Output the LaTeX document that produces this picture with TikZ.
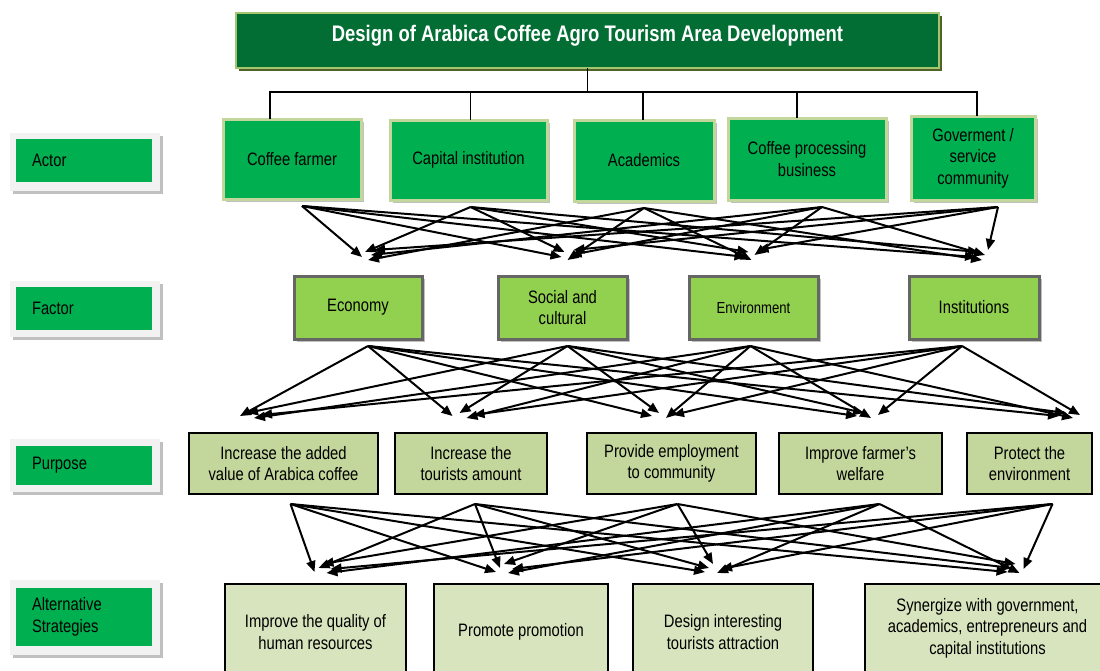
\documentclass[tikz,border=0pt]{standalone}
\usepackage{fontspec}
\setmainfont{Liberation Sans}
\newfontfamily\nf{Liberation Sans}[FakeStretch=0.82]
\usetikzlibrary{arrows.meta,shadows}

\definecolor{titlegreen}{RGB}{2,110,52}
\definecolor{titleedge}{RGB}{165,198,110}
\definecolor{titleshadow}{RGB}{80,98,40}
\definecolor{actorgreen}{RGB}{0,176,80}
\definecolor{actoredge}{RGB}{195,214,155}
\definecolor{factorgreen}{RGB}{146,208,80}
\definecolor{factoredge}{RGB}{102,102,102}
\definecolor{purposefill}{RGB}{195,214,155}
\definecolor{stratfill}{RGB}{215,228,189}
\definecolor{framegray}{RGB}{242,242,242}
\definecolor{shadowgray}{RGB}{192,192,192}

% box given by its corners (x1,y1) and (x2,y2)
\newcommand\boxat[7]{\node[#1, minimum width={#5pt-#3pt}, minimum height={#6pt-#4pt}] (#2) at ({(#3+#5)/2},{(#4+#6)/2}) {#7};}

\tikzset{
  base/.style={inner sep=0pt, outer sep=0pt, align=center, font=\nf\fontsize{18}{21.5}\selectfont},
  title/.style={base, fill=titlegreen, draw=titleedge, line width=2.5pt, text=white,
    font=\nf\bfseries\fontsize{22.5}{26}\selectfont, text height=16pt, text depth=14pt,
    copy shadow={shadow xshift=3pt, shadow yshift=-3pt, fill=titleshadow, draw=none}},
  actor/.style={base, fill=actorgreen, draw=actoredge, line width=3pt,
    copy shadow={shadow xshift=3pt, shadow yshift=-3pt, fill=shadowgray, draw=none}},
  labelframe/.style={base, fill=framegray,
    copy shadow={shadow xshift=3pt, shadow yshift=-3pt, fill=shadowgray, draw=none}},
  labelbox/.style={base, fill=actorgreen, align=left, text width=104pt, inner xsep=16pt},
  factor/.style={base, fill=factorgreen, draw=factoredge, line width=3pt,
    copy shadow={shadow xshift=3pt, shadow yshift=-3pt, fill=shadowgray, draw=none}},
  purpose/.style={base, fill=purposefill, draw=black, line width=1.6pt},
  strat/.style={base, fill=stratfill, draw=black, line width=1.6pt},
  bus/.style={draw=black, line width=1.3pt},
  arr/.style={draw=black, line width=2pt, -{Triangle[length=11pt,width=9pt]}}
}

\begin{document}
\begin{tikzpicture}[x=1pt,y=-1pt]
\useasboundingbox[fill=white] (0,0) rectangle (1100,670);

% title
\boxat{title}{T}{236}{13}{939}{68}{Design of Arabica Coffee Agro Tourism Area Development}

% row labels
\boxat{labelframe}{lf1}{10}{133}{160}{191}{}
\boxat{labelbox}{l1}{16}{139}{152}{182}{Actor}
\boxat{labelframe}{lf2}{10}{281}{160}{337}{}
\boxat{labelbox}{l2}{16}{287}{152}{330}{Factor}
\boxat{labelframe}{lf3}{10}{439}{160}{492}{}
\boxat{labelbox}{l3}{16}{446}{152}{485}{Purpose}
\boxat{labelframe}{lf4}{10}{580}{160}{655}{}
\boxat{labelbox}{l4}{16}{588}{152}{646}{Alternative\\Strategies}

% actors
\boxat{actor}{a1}{223}{119}{361}{199}{Coffee farmer}
\boxat{actor}{a2}{390}{120}{547}{200}{Capital institution}
\boxat{actor}{a3}{574}{120}{714}{201}{Academics}
\boxat{actor}{a4}{728}{118}{886}{200}{Coffee processing\\business}
\boxat{actor}{a5}{911}{116}{1035}{200}{Goverment /\\service\\community}

% factors
\boxat{factor}{f1}{294}{276}{422}{339}{Economy}
\boxat{factor}{f2}{498}{276}{627}{339}{Social and\\cultural}
\boxat{factor, font=\nf\fontsize{16}{20}\selectfont}{f3}{689}{276}{818}{339}{Environment}
\boxat{factor}{f4}{909}{276}{1039}{339}{Institutions}

% purposes
\boxat{purpose}{p1}{189}{433}{378}{494}{Increase the added\\value of Arabica coffee}
\boxat{purpose}{p2}{395}{433}{547}{494}{Increase the\\tourists amount}
\boxat{purpose}{p3}{587}{433}{756}{494}{Provide employment\\to community}
\boxat{purpose}{p4}{779}{433}{942}{494}{Improve farmer’s\\welfare}
\boxat{purpose}{p5}{967}{433}{1092}{494}{Protect the\\environment}

% alternative strategies
\boxat{strat}{s1}{225}{584}{406}{680}{Improve the quality of\\human resources}
\boxat{strat}{s2}{434}{584}{608}{680}{Promote promotion}
\boxat{strat}{s3}{633}{584}{813}{680}{Design interesting\\tourists attraction}
\boxat{strat}{s4}{865}{584}{1110}{672}{Synergize with government,\\academics, entrepreneurs and\\capital institutions}

% tree from the title down to the actors
\coordinate (bus) at (587.5,92);
\draw[bus] (T.south) -- (bus);
\draw[bus] ([xshift=-22pt]a1.north) |- (bus);
\draw[bus] ([xshift=2pt]a2.north) |- (bus);
\draw[bus] ([xshift=-1pt]a3.north) |- (bus);
\draw[bus] ([xshift=-10pt]a4.north) |- (bus);
\draw[bus] ([xshift=4pt]a5.north) |- (bus);

% actors -> factors
\foreach \s/\sx [count=\i] in {a1/10,a2/2,a3/0,a4/15,a5/25}{
  \foreach \t/\tx in {f1/10,f2/5,f3/-2,f4/8}{
    \pgfmathsetmacro\dx{\tx+3*(\i-3)}
    \pgfmathsetmacro\dy{14+mod(5*\i,13)}
    \draw[arr] ([xshift=\sx pt,yshift=-7pt]\s.south) -- ([xshift=\dx pt,yshift=\dy pt]\t.north);
  }}

% factors -> purposes
\foreach \s/\sx [count=\i] in {f1/10,f2/5,f3/-3,f4/-12}{
  \foreach \t/\tx in {p1/-33,p2/-8,p3/-9,p4/7,p5/40}{
    \pgfmathsetmacro\dx{\tx+7*(\i-2.5)}
    \pgfmathsetmacro\dy{14+mod(3*\i,8)}
    \draw[arr] ([xshift=\sx pt,yshift=-7pt]\s.south) -- ([xshift=\dx pt,yshift=\dy pt]\t.north);
  }}

% purposes -> strategies
\foreach \s/\sx [count=\i] in {p1/7,p2/4,p3/6,p4/19,p5/23}{
  \foreach \t/\tx in {s1/7,s2/-17,s3/-10,s4/28}{
    \pgfmathsetmacro\dx{\tx+4*(\i-3)}
    \pgfmathsetmacro\dy{8+mod(4*\i,13)}
    \draw[arr] ([xshift=\sx pt,yshift=-10pt]\s.south) -- ([xshift=\dx pt,yshift=\dy pt]\t.north);
  }}
\end{tikzpicture}
\end{document}
